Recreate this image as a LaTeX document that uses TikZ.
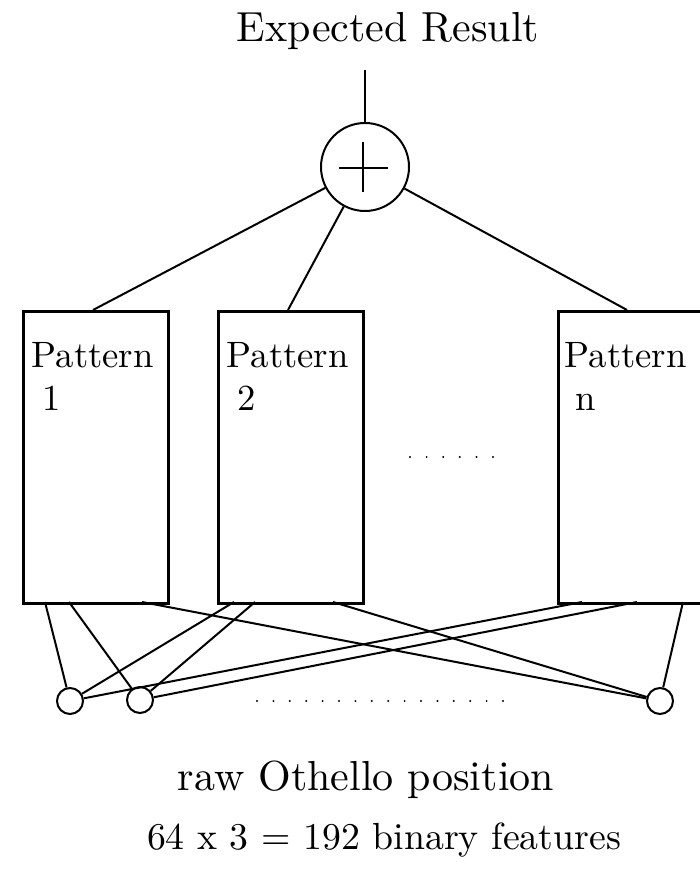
\documentclass[tikz,border=0pt]{standalone}
\usetikzlibrary{calc}
\begin{document}
\begin{tikzpicture}[x=0.5pt,y=-0.5pt,
  patbox/.style={draw, line width=1.5pt, minimum width=72.5pt, minimum height=146pt,
                 anchor=north west, inner sep=0pt},
  wire/.style={line width=1pt},
  unit/.style={circle, draw, line width=1pt, minimum size=13pt, inner sep=0pt},
  caption/.style={scale=2.1, inner sep=0pt, anchor=base},
  patlabel/.style={scale=1.835, inner sep=0pt, anchor=north west, align=left,
                   font=\fontsize{10}{11.7}\selectfont},
  dotmark/.style={circle, fill, inner sep=0pt, minimum size=1.1pt}
]
\useasboundingbox (0,0) rectangle (700,871);

% output
\node[caption] (result) at (388,42) {Expected Result};
\node[circle, draw, line width=1pt, minimum size=44pt, inner sep=0pt] (sum) at (365,167) {};
\draw[line width=1.2pt] ($(sum)+(-26,1)$) -- ($(sum)+(23,1)$);
\draw[line width=1.2pt] ($(sum)+(-2,-25)$) -- ($(sum)+(-2,25)$);
\coordinate (stem) at (365,70);
\draw[line width=1.3pt] (stem) -- (sum);

% pattern boxes
\node[patbox] (b1) at (22,310) {};
\node[patbox] (b2) at (217,310) {};
\node[patbox] (bn) at (557,310) {};
\node[patlabel] (l1) at ([shift={(9,32)}]b1.north west) {Pattern\\\hspace*{3pt}1};
\node[patlabel] (l2) at ([shift={(9,32)}]b2.north west) {Pattern\\\hspace*{3pt}2};
\node[patlabel] (ln) at ([shift={(7,32)}]bn.north west) {Pattern\\\hspace*{3pt}n};
\foreach \i in {0,...,5}
  \node[dotmark] (md\i) at (410+16.6*\i,457) {};

% box tops feeding the sum
\coordinate (t1) at (93,310);
\coordinate (t2) at (288,310);
\coordinate (tn) at (627,310);
\draw[wire] (sum) -- (t1);
\draw[wire] (sum) -- (t2);
\draw[wire] (sum) -- (tn);

% input units
\node[unit] (c1) at (70,701) {};
\node[unit] (c2) at (140,700) {};
\node[unit] (cn) at (660,701) {};
\foreach \i in {0,...,15}
  \node[dotmark] (bd\i) at (257+16.4*\i,701) {};

% box bottoms reading the units
\coordinate (p11) at (45,602);
\coordinate (p12) at (69,602);
\coordinate (p13) at (142,602);
\coordinate (p21) at (234,602);
\coordinate (p22) at (255,602);
\coordinate (p23) at (333,602);
\coordinate (pn1) at (582,602);
\coordinate (pn2) at (637,602);
\coordinate (pn3) at (683,602);
\draw[wire] (p11) -- (c1);
\draw[wire] (p12) -- (c2);
\draw[wire] (p13) -- (cn);
\draw[wire] (p21) -- (c1);
\draw[wire] (p22) -- (c2);
\draw[wire] (p23) -- (cn);
\draw[wire] (pn1) -- (c1);
\draw[wire] (pn2) -- (c2);
\draw[wire] (pn3) -- (cn);

% captions
\node[caption] (raw) at (366,790) {raw Othello position};
\node[caption, scale=0.9] (feat) at (384,849) {64 x 3 = 192 binary features};
\end{tikzpicture}
\end{document}
